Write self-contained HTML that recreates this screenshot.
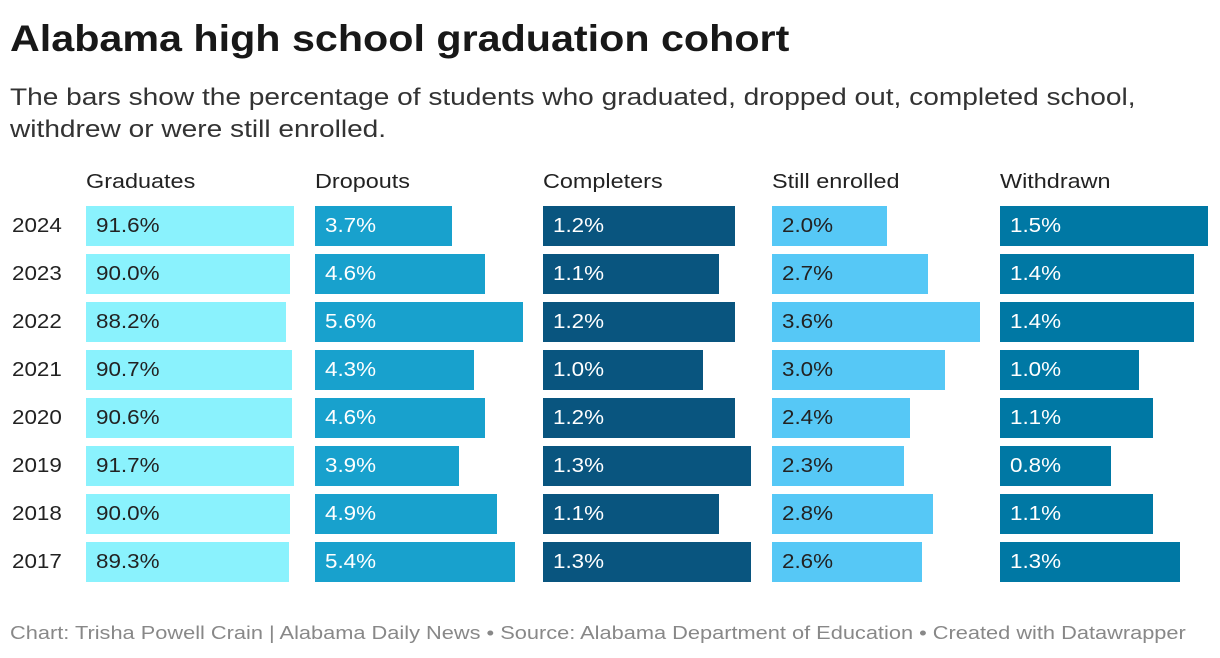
<!DOCTYPE html>
<html><head><meta charset="utf-8">
<style>
body{margin:0;width:1220px;height:658px;background:#fff;font-family:"Liberation Sans",Arial,sans-serif;color:#222;overflow:hidden;position:relative}
.t{position:absolute;white-space:nowrap;transform-origin:0 50%}
</style></head>
<body>
<div class="t" style="left:10px;top:18px;font-size:37px;font-weight:bold;color:#181818;transform:scaleX(1.115)">Alabama high school graduation cohort</div>
<div class="t" style="left:10px;top:82px;font-size:24px;line-height:32px;color:#333;transform:scaleX(1.17)">The bars show the percentage of students who graduated, dropped out, completed school,<br>withdrew or were still enrolled.</div>
<div id="chart"></div>
<div class="t" style="left:10px;top:623px;font-size:18px;color:#888;transform:scaleX(1.21)">Chart: Trisha Powell Crain | Alabama Daily News • Source: Alabama Department of Education • Created with Datawrapper</div>
<script>
const years=["2024","2023","2022","2021","2020","2019","2018","2017"];
const columns=["Graduates","Dropouts","Completers","Still enrolled","Withdrawn"];
const graduates=[91.6,90.0,88.2,90.7,90.6,91.7,90.0,89.3];
const dropouts=[3.7,4.6,5.6,4.3,4.6,3.9,4.9,5.4];
const completers=[1.2,1.1,1.2,1.0,1.2,1.3,1.1,1.3];
const stillEnrolled=[2.0,2.7,3.6,3.0,2.4,2.3,2.8,2.6];
const withdrawn=[1.5,1.4,1.4,1.0,1.1,0.8,1.1,1.3];
const series=[graduates,dropouts,completers,stillEnrolled,withdrawn];
const colors=["#8af2fd","#18a1cd","#09557f","#56c8f6","#0078a4"];
const textColors=["#222","#fff","#fff","#222","#fff"];
const chart=document.getElementById('chart');
const colX=c=>86+c*228.5, colW=208;
const rowY=r=>206+r*48, barH=40;
function mk(css,txt){const d=document.createElement('div');d.className='t';d.style.cssText=css;if(txt!=null)d.textContent=txt;chart.appendChild(d);return d;}
columns.forEach((name,c)=>{
  const h=mk(`left:${colX(c)}px;top:171px;font-size:20px;color:#222;transform:scaleX(1.17)`,name);
  
  
  const vals=series[c];const max=Math.max(...vals);
  vals.forEach((v,r)=>{
    const w=v/max*colW;
    const b=mk(`left:${colX(c)}px;top:${rowY(r)}px;width:${w}px;height:${barH}px;background:${colors[c]}`);
    
    
    const l=mk(`left:${colX(c)+10}px;top:${rowY(r)}px;line-height:${barH}px;font-size:20px;color:${textColors[c]};transform:scaleX(1.12)`,v.toFixed(1)+'%');
    
    
  });
});
years.forEach((y,r)=>{
  const l=mk(`left:12px;top:${rowY(r)}px;line-height:${barH}px;font-size:20px;color:#222;transform:scaleX(1.12)`,y);
  
  
});
</script>
</body></html>
